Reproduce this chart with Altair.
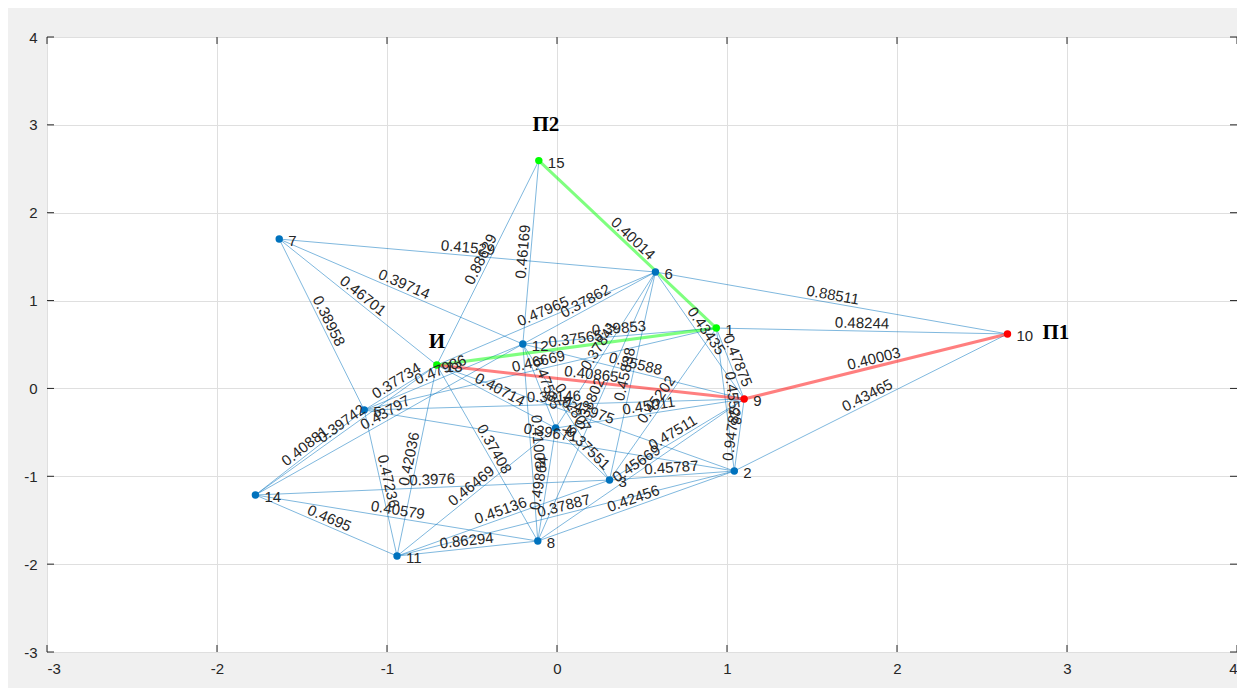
import math
import altair as alt
import pandas as pd

# ---------------- data ----------------
node_ids = [1, 2, 3, 4, 5, 6, 7, 8, 9, 10, 11, 12, 13, 14, 15]
node_x = [0.937, 1.043, 0.309, -0.008, -1.134, 0.579, -1.634, -0.113, 1.101, 2.650, -0.941, -0.201, -0.707, -1.774, -0.107]
node_y = [0.687, -0.940, -1.043, -0.451, -0.246, 1.325, 1.700, -1.737, -0.121, 0.620, -1.908, 0.505, 0.266, -1.213, 2.593]

edge_src = [15, 1, 13, 9, 6, 1, 2, 7, 13, 15, 7, 7, 7, 5, 5, 14, 14, 14, 14, 14, 14,
            6, 1, 1, 2, 3, 8, 3, 8, 11, 11, 11, 11, 13, 11, 5, 12, 4, 5, 13, 5, 5,
            13, 12, 12, 4, 3, 12, 1, 4, 8, 4, 12, 12, 13]
edge_dst = [1, 13, 9, 10, 10, 10, 10, 6, 15, 12, 12, 13, 5, 13, 12, 5, 13, 12, 3, 8, 11,
            9, 9, 2, 9, 9, 9, 2, 2, 2, 3, 8, 4, 8, 13, 11, 8, 8, 9, 2, 2, 1,
            6, 6, 1, 6, 6, 9, 3, 9, 6, 3, 3, 4, 4]
edge_w = [0.40014, 0.37565, 0.40865, 0.40003, 0.88511, 0.48244, 0.43465, 0.41529, 0.88629,
          0.46169, 0.39714, 0.46701, 0.38958, 0.37734, 0.47986, 0.40881, 0.39742, 0.43797,
          0.3976, 0.40579, 0.4695, 0.43435, 0.47875, 0.45528, 0.94785, 0.47511, 0.45669,
          0.45787, 0.42456, 0.37887, 0.45136, 0.86294, 0.46469, 0.37408, 0.42036, 0.47236,
          0.41008, 0.49864, 0.38146, 0.47975, 0.39671, 0.46669, 0.47965, 0.37862, 0.39853,
          0.37841, 0.45838, 0.35588, 0.45202, 0.45011, 0.38802, 0.37551, 0.42807, 0.47535,
          0.40714]

green_path = [15, 1, 13]
red_path = [13, 9, 10]

special_names = ["И", "П1", "П2"]
special_nodes = [13, 10, 15]

x_ticks = [-3, -2, -1, 0, 1, 2, 3, 4]
y_ticks = [-3, -2, -1, 0, 1, 2, 3, 4]

# ---------------- layout constants ----------------
W, H = 1190, 615
SX = W / 7.0
SY = H / 7.0

pos = dict(zip(node_ids, zip(node_x, node_y)))
green_set = {frozenset(p) for p in zip(green_path[:-1], green_path[1:])}
red_set = {frozenset(p) for p in zip(red_path[:-1], red_path[1:])}

rows = []
for s, d, w in zip(edge_src, edge_dst, edge_w):
    x1, y1 = pos[s]
    x2, y2 = pos[d]
    a = math.degrees(math.atan2(-(y2 - y1) * SY, (x2 - x1) * SX))
    if a > 90:
        a -= 180
    if a <= -90:
        a += 180
    key = frozenset((s, d))
    kind = "green" if key in green_set else ("red" if key in red_set else "plain")
    rows.append(dict(x1=x1, y1=y1, x2=x2, y2=y2, mx=(x1 + x2) / 2, my=(y1 + y2) / 2,
                     label="{:g}".format(w), ang=a % 360, kind=kind))
edges = pd.DataFrame(rows)

green_nodes = set(green_path)
red_nodes = set(red_path) - green_nodes
nodes = pd.DataFrame({
    "id": node_ids, "x": node_x, "y": node_y,
    "lab": [str(i) for i in node_ids],
    "kind": ["green" if i in green_nodes else ("red" if i in red_nodes else "plain") for i in node_ids],
})
specials = pd.DataFrame({
    "name": special_names,
    "x": [pos[n][0] for n in special_nodes],
    "y": [pos[n][1] for n in special_nodes],
})
xt = pd.DataFrame({"v": x_ticks})
yt = pd.DataFrame({"v": y_ticks})

xs = alt.Scale(domain=[-3, 4], nice=False, zero=False)
ys = alt.Scale(domain=[-3, 4], nice=False, zero=False)
xaxis = alt.Axis(values=x_ticks, title=None, grid=True, ticks=False, domain=False,
                 labelPadding=9, labelExpr="'' + datum.value")
yaxis = alt.Axis(values=y_ticks, title=None, grid=True, ticks=False, domain=False,
                 labelPadding=10, labelExpr="'' + datum.value")

kind_colors = alt.Scale(domain=["plain", "green", "red"], range=["#0072BD", "#00FF00", "#FF0000"])

plain_edges = alt.Chart(edges).transform_filter("datum.kind == 'plain'").mark_rule(
    strokeWidth=1, opacity=0.5, color="#0072BD"
).encode(
    x=alt.X("x1:Q", scale=xs, axis=xaxis),
    y=alt.Y("y1:Q", scale=ys, axis=yaxis),
    x2="x2:Q", y2="y2:Q",
)

hi_edges = alt.Chart(edges).transform_filter("datum.kind != 'plain'").mark_rule(
    strokeWidth=3, opacity=0.5
).encode(
    x=alt.X("x1:Q", scale=xs), y=alt.Y("y1:Q", scale=ys),
    x2="x2:Q", y2="y2:Q",
    color=alt.Color("kind:N", scale=kind_colors, legend=None),
)

edge_labels = alt.Chart(edges).mark_text(
    font="Liberation Sans", fontSize=15, color="#262626", align="center", baseline="bottom", dy=0
).encode(
    x=alt.X("mx:Q", scale=xs), y=alt.Y("my:Q", scale=ys),
    text="label:N",
    angle=alt.Angle("ang:Q", scale=None),
)

node_pts = alt.Chart(nodes).mark_circle(size=55, opacity=1).encode(
    x=alt.X("x:Q", scale=xs), y=alt.Y("y:Q", scale=ys),
    color=alt.Color("kind:N", scale=kind_colors, legend=None),
)

node_labels = alt.Chart(nodes).mark_text(
    font="Liberation Sans", fontSize=15, color="#262626", align="left", baseline="middle", dx=9, dy=2
).encode(
    x=alt.X("x:Q", scale=xs), y=alt.Y("y:Q", scale=ys), text="lab:N",
)

spec_И = alt.Chart(specials).transform_filter("datum.name == 'И'").mark_text(
    font="Liberation Serif", fontWeight="bold", fontSize=21, color="#000000",
    align="center", baseline="middle", dy=-23
).encode(x=alt.X("x:Q", scale=xs), y=alt.Y("y:Q", scale=ys), text="name:N")

spec_P1 = alt.Chart(specials).transform_filter("datum.name == 'П1'").mark_text(
    font="Liberation Serif", fontWeight="bold", fontSize=21, color="#000000",
    align="left", baseline="middle", dx=35, dy=-1
).encode(x=alt.X("x:Q", scale=xs), y=alt.Y("y:Q", scale=ys), text="name:N")

spec_P2 = alt.Chart(specials).transform_filter("datum.name == 'П2'").mark_text(
    font="Liberation Serif", fontWeight="bold", fontSize=21, color="#000000",
    align="center", baseline="middle", dx=7, dy=-36
).encode(x=alt.X("x:Q", scale=xs), y=alt.Y("y:Q", scale=ys), text="name:N")

tick_len = 7
xt_bottom = alt.Chart(xt).mark_rule(color="#262626", strokeWidth=1).encode(
    x=alt.X("v:Q", scale=xs), y=alt.value(H), y2=alt.value(H - tick_len))
xt_top = alt.Chart(xt).mark_rule(color="#262626", strokeWidth=1).encode(
    x=alt.X("v:Q", scale=xs), y=alt.value(0), y2=alt.value(tick_len))
yt_left = alt.Chart(yt).mark_rule(color="#262626", strokeWidth=1).encode(
    y=alt.Y("v:Q", scale=ys), x=alt.value(0), x2=alt.value(tick_len))
yt_right = alt.Chart(yt).mark_rule(color="#262626", strokeWidth=1).encode(
    y=alt.Y("v:Q", scale=ys), x=alt.value(W), x2=alt.value(W - tick_len))

chart = alt.layer(
    plain_edges, hi_edges, node_pts, edge_labels, node_labels,
    spec_И, spec_P1, spec_P2,
    xt_bottom, xt_top, yt_left, yt_right,
).properties(
    width=W, height=H,
    autosize=alt.AutoSizeParams(type="none"),
    padding={"left": 39, "top": 29, "right": 0, "bottom": 36},
    background="#f0f0f0",
).configure_view(
    fill="white", stroke="#262626", strokeWidth=1
).configure_axis(
    labelFont="Liberation Sans", labelFontSize=15, labelColor="#262626",
    gridColor="#dfdfdf", gridWidth=1,
)

chart.save("out.html", embed_options={"renderer": "svg", "actions": False})
